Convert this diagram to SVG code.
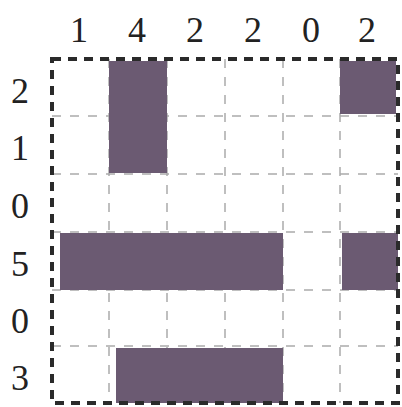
<svg xmlns="http://www.w3.org/2000/svg" width="402" height="407" viewBox="0 0 402 407">
<style>
.lbl{font-family:"Liberation Serif",serif;font-size:36px;fill:#222;text-anchor:middle}
.fill{fill:#6b5a72}
.inner{stroke:#aaa;stroke-width:1.5;stroke-dasharray:9 9;fill:none}
.outer{stroke:#2a2a2a;stroke-width:4;stroke-dasharray:9 7;fill:none}
</style>
<rect width="402" height="407" fill="#fff"/>
<g id="colLabels">
<text class="lbl" x="79" y="42">1</text>
<text class="lbl" x="137" y="42">4</text>
<text class="lbl" x="195" y="42">2</text>
<text class="lbl" x="253" y="42">2</text>
<text class="lbl" x="311" y="42">0</text>
<text class="lbl" x="367" y="42">2</text>
</g>
<g id="rowLabels">
<text class="lbl" x="20" y="103">2</text>
<text class="lbl" x="20" y="160">1</text>
<text class="lbl" x="20" y="218">0</text>
<text class="lbl" x="20" y="276">5</text>
<text class="lbl" x="20" y="333">0</text>
<text class="lbl" x="20" y="390">3</text>
</g>
<g id="grid">
<path class="inner" d="M109 59V403M167 59V403M225 59V403M283 59V403M340 59V403M52 116H398M52 174H398M52 232H398M52 290H398M52 346H398"/>
</g>
<g id="cells">
<rect class="fill" x="109" y="61" width="58" height="112"/>
<rect class="fill" x="340" y="61" width="56" height="53"/>
<rect class="fill" x="60" y="233" width="223" height="57"/>
<rect class="fill" x="342" y="233" width="56" height="57"/>
<rect class="fill" x="116" y="348" width="167" height="55"/>
</g>
<g id="border">
<rect class="outer" x="52" y="59" width="346" height="344"/>
</g>
</svg>
